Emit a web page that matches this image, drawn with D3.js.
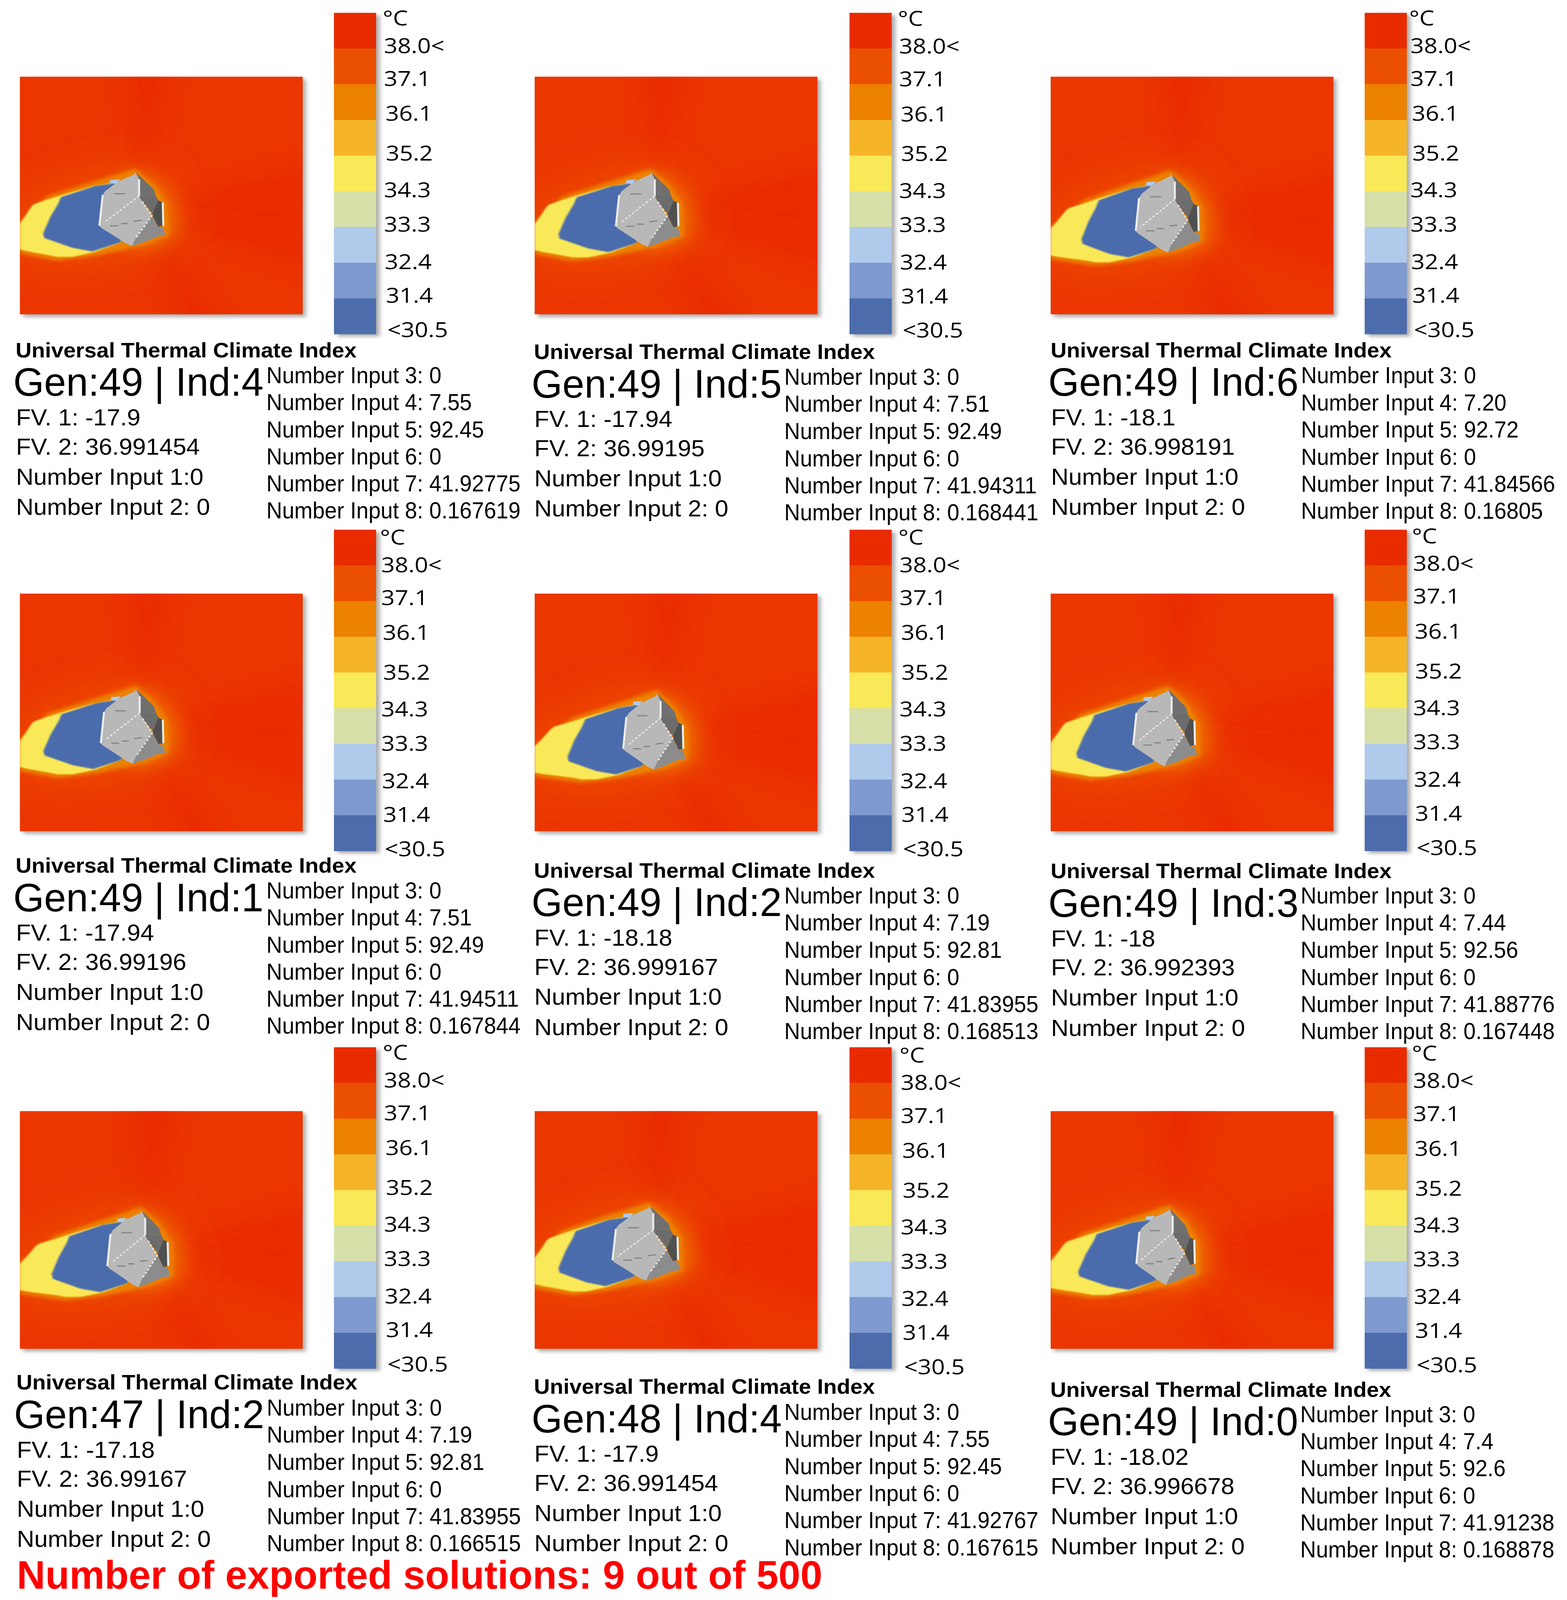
<!DOCTYPE html>
<html>
<head>
<meta charset="utf-8">
<script src="https://cdn.jsdelivr.net/npm/d3@7"></script>
<style>
  html, body { margin: 0; background: #fff; overflow: hidden; }
  svg { display: block; width: 100vw; height: 100vh; }
</style>
</head>
<body>
<!-- the browser window can come up shorter than asked for, so the drawing is fitted to it -->
<svg id="chart" viewBox="0 0 4012 4866" preserveAspectRatio="none"></svg>
<script>
// Solutions, in reading order
const gens = [49, 49, 49, 49, 49, 49, 47, 48, 49];
const inds = [4, 5, 6, 1, 2, 3, 2, 4, 0];
const fv1 = ['-17.9', '-17.94', '-18.1', '-17.94', '-18.18', '-18', '-17.18', '-17.9', '-18.02'];
const fv2 = ['36.991454', '36.99195', '36.998191', '36.99196', '36.999167', '36.992393', '36.99167', '36.991454', '36.996678'];
const input1 = ['0', '0', '0', '0', '0', '0', '0', '0', '0'];
const input2 = ['0', '0', '0', '0', '0', '0', '0', '0', '0'];
const input3 = ['0', '0', '0', '0', '0', '0', '0', '0', '0'];
const input4 = ['7.55', '7.51', '7.20', '7.51', '7.19', '7.44', '7.19', '7.55', '7.4'];
const input5 = ['92.45', '92.49', '92.72', '92.49', '92.81', '92.56', '92.81', '92.45', '92.6'];
const input6 = ['0', '0', '0', '0', '0', '0', '0', '0', '0'];
const input7 = ['41.92775', '41.94311', '41.84566', '41.94511', '41.83955', '41.88776', '41.83955', '41.92767', '41.91238'];
const input8 = ['0.167619', '0.168441', '0.16805', '0.167844', '0.168513', '0.167448', '0.166515', '0.167615', '0.168878'];

// Legend
const legendLabels = ['38.0<', '37.1', '36.1', '35.2', '34.3', '33.3', '32.4', '31.4', '<30.5'];
const legendTemps = [38.5, 37.5, 36.6, 35.6, 34.7, 33.8, 32.8, 31.9, 30];
const tempBreaks = [30.5, 31.4, 32.4, 33.3, 34.3, 35.2, 36.1, 37.1, 38.0];
const tempColors = ['#4c6cac', '#7e9ace', '#b0caec', '#d6e0a8', '#f9e858', '#f5b428', '#ec8200', '#eb5000', '#e92c00'];

// Temperature zones on the ground, in percent of the plan (u, v)
const wakeYellow = [[0, 61.4], [1.7, 58.6], [4, 54.4], [4.9, 53.3], [9.5, 51.4], [13.7, 49.8], [18.3, 48.2], [25.2, 45.9], [32.6, 44.3], [34.4, 53.1], [35.3, 69.2], [26.1, 73.3], [22.4, 74.3], [18.3, 75.4], [13.2, 75.4], [9.5, 74.5], [3.1, 73.1], [0, 72.2]];
const wakeBlue = [[14.4, 50.3], [26.1, 45.7], [33, 44.5], [34.4, 45.2], [39, 53], [35.3, 69.2], [25.2, 73.1], [18.3, 71.5], [8.6, 67.4], [8.2, 65.5], [10.7, 58.6], [13.4, 53.1]];
const wakeSky = [[31.6, 43.2], [35.1, 42.9], [33.5, 44.8], [31.4, 44.3]];
const hull = [[0, 61], [9.5, 50], [25, 44], [40.6, 38.5], [47.3, 45], [52, 53], [52.5, 66.5], [43.6, 70.5], [26, 75], [13, 77], [0, 74]];
const buildingGlow = [[38, 39], [47, 43], [54, 52], [55, 66], [46, 71], [37, 71]];

// Building facets, same units
const facetLight = [[40.6, 39.9], [42, 42.9], [42, 49.8], [43.1, 52.1], [46.6, 58.1], [45, 60.4], [43.1, 63.2], [40.8, 67.4], [39.5, 70.8], [37.2, 69.7], [33.5, 66.9], [28.4, 63.2], [27.7, 62.3], [28.9, 49.4], [29.8, 47.8], [34.4, 43.8], [40.4, 40.8]];
const facetA = [[40.8, 39.9], [47.3, 47.1], [48, 49.8], [42, 49.8], [42, 42.9]];
const facetB = [[42, 49.8], [48, 49.8], [48.9, 51.7], [46.8, 57.2], [43.1, 52.1]];
const facetC = [[48.9, 51.7], [50.5, 52.6], [50.7, 62.3], [48.9, 62.7], [46.8, 58.1], [46.8, 57.2]];
const facetD = [[46.6, 58.1], [48.9, 62.7], [50.7, 63.2], [51.4, 66.4], [48.9, 66.7], [43.6, 69.2], [39.5, 70.8], [40.8, 67.4], [43.1, 63.2], [45, 60.4]];
const edgesWhite = [[[28.9, 49.4], [27.7, 62.3]], [[42, 42.9], [42, 49.8]], [[50.5, 52.6], [50.7, 62.3]]];
const edgesDashed = [[[43.1, 52.1], [46.6, 58.1], [40.8, 67.4]], [[42, 49.8], [29.4, 60.9]]];
const edgesDark = [[[33, 48.9], [37, 48.9]], [[31.5, 62.3], [34.5, 62.3]], [[35.5, 61.4], [38, 61.4]], [[40, 60.4], [43, 60]]];

// Where each solution's wake and building sit on the plan, percent
const wakeLeft = [8.2, 8.4, 10.9, 8.3, 11.6, 9.1, 11.2, 8.4, 9.7];
const buildLeft = [28.1, 28.7, 30.1, 28.6, 31.3, 29.2, 30.9, 27.5, 30.3];
const buildRight = [51.4, 51.5, 53, 51.4, 53.2, 51.7, 53.1, 51.4, 51.6];
const buildTop = [40.2, 40.2, 40.9, 40.2, 42.1, 40.2, 41.8, 39.9, 40.9];
const buildBottom = [71.3, 71.6, 74, 71.6, 74.1, 72.7, 74.1, 71.4, 73.1];

// Darker streaks fanning out from the building, degrees from north
const streakAngles = [3, 78, 92, 106, 155];

// Panel placement
const panelX = [0, 1312, 2624, 0, 1312, 2624, 0, 1312, 2624];
const panelY = [0, 0, 0, 1565, 1565, 1565, 3132, 3132, 3132];
const plotDx = [0, 6, 15, 0, 6, 15, 0, 6, 15];
const plotDy = [0, 0, 0, 7, 7, 7, 14, 14, 14];
const barDx = [0, 8, 15, 0, 8, 15, 0, 8, 15];
const labelDx = [0, 7, 4, -7, 8, 11, 0, 11, 11];
const labelDy = [0, 2, 0, 14, 14, 10, 14, 22, 16];
const textDx = [0, 15, 26, 0, 15, 26, 2, 15, 25];
const textDy = [0, 5, 0, 2, 17, 19, 7, 20, 29];
const rightDx = [0, 14, 25, 0, 14, 24, 1, 14, 23];
const rightDy = [0, 5, 1, 2, 18, 18, 8, 21, 28];

const plotW = 724, plotH = 723;
const svg = d3.select('#chart');
const defs = svg.append('defs');

function addBlur(id, sd) {
  defs.append('filter').attr('id', id)
    .attr('x', '-80%').attr('y', '-80%').attr('width', '260%').attr('height', '260%')
    .append('feGaussianBlur').attr('stdDeviation', sd);
}
addBlur('b2', 2);
addBlur('b6', 6);
addBlur('b28', 28);
addBlur('b70', 70);

defs.append('clipPath').attr('id', 'plotClip')
  .append('rect').attr('width', plotW).attr('height', plotH);

const tempColor = d3.scaleThreshold().domain(tempBreaks).range(['#4c6cac'].concat(tempColors));
const x = d3.scaleLinear().domain([0, 100]).range([0, plotW]);
const y = d3.scaleLinear().domain([0, 100]).range([0, plotH]);
const legendY = d3.scaleBand().domain(legendLabels).range([0, 977]);

function label(g, txt, px, py, size, sx, opts) {
  const o = opts || {};
  return g.append('text')
    .attr('transform', `translate(${px},${py}) scale(${sx},1)`)
    .attr('font-family', o.family || '"Liberation Sans", Arial, sans-serif')
    .attr('font-weight', o.weight || 400)
    .attr('font-size', size)
    .attr('fill', o.fill || '#000')
    .text(txt);
}

function drawPlot(g, i) {
  // each solution bends the same plan outline to its own wake and building extents
  const warpX = d3.scaleLinear().domain([0, 8.2, 27.7, 51.4, 100]).range([0, wakeLeft[i], buildLeft[i], buildRight[i], 100]);
  const warpY = d3.scaleLinear().domain([0, 39.9, 70.8, 100]).range([0, buildTop[i], buildBottom[i], 100]);
  const shape = d3.line().x(d => x(warpX(d[0]))).y(d => y(warpY(d[1])));
  const closed = pts => shape(pts) + 'Z';

  g.append('rect').attr('x', 8).attr('y', 8).attr('width', plotW).attr('height', plotH)
    .attr('fill', '#aaa').attr('filter', 'url(#b6)');
  const p = g.append('g').attr('clip-path', 'url(#plotClip)');
  p.append('rect').attr('width', plotW).attr('height', plotH).attr('fill', '#eb3600');

  const arc = d3.arc().innerRadius(0).outerRadius(1100);
  p.append('g').attr('transform', `translate(${x(warpX(42))},${y(warpY(56))})`)
    .selectAll('path').data(streakAngles).join('path')
    .attr('d', a => arc({ startAngle: (a - 7) * Math.PI / 180, endAngle: (a + 7) * Math.PI / 180 }))
    .attr('fill', '#e92800').attr('opacity', 0.6).attr('filter', 'url(#b28)');

  p.append('path').attr('d', closed(hull)).attr('fill', '#ee5200').attr('filter', 'url(#b70)');
  p.append('path').attr('d', closed(buildingGlow)).attr('fill', '#ee7a00').attr('filter', 'url(#b28)');
  p.append('path').attr('d', closed(hull)).attr('fill', tempColor(36.5)).attr('filter', 'url(#b6)');
  p.append('path').attr('d', closed(wakeYellow)).attr('fill', tempColor(34.5)).attr('filter', 'url(#b2)');
  p.append('path').attr('d', closed(wakeBlue)).attr('fill', tempColor(30)).attr('filter', 'url(#b2)');
  p.append('path').attr('d', closed(wakeSky)).attr('fill', tempColor(33));

  const facets = [[facetLight, '#b8b8b8'], [facetA, '#707070'], [facetB, '#6c6c6c'], [facetC, '#505050'], [facetD, '#8c8c8c']];
  p.selectAll('.facet').data(facets).join('path').attr('class', 'facet')
    .attr('d', d => closed(d[0])).attr('fill', d => d[1]);
  p.selectAll('.edgeW').data(edgesWhite).join('path').attr('class', 'edgeW')
    .attr('d', shape).attr('fill', 'none').attr('stroke', '#eee').attr('stroke-width', 5);
  p.selectAll('.edgeD').data(edgesDashed).join('path').attr('class', 'edgeD')
    .attr('d', shape).attr('fill', 'none').attr('stroke', '#e4e4e4').attr('stroke-width', 4).attr('stroke-dasharray', '7 5');
  p.selectAll('.edgeK').data(edgesDark).join('path').attr('class', 'edgeK')
    .attr('d', shape).attr('fill', 'none').attr('stroke', '#888').attr('stroke-width', 4);
}

function drawLegend(g) {
  g.append('rect').attr('x', 9).attr('y', 7).attr('width', 108).attr('height', 977)
    .attr('fill', '#aaa').attr('filter', 'url(#b6)');
  g.selectAll('.band').data(legendLabels).join('rect').attr('class', 'band')
    .attr('y', d => legendY(d)).attr('width', 108).attr('height', legendY.bandwidth() + 0.5)
    .attr('fill', (d, i) => tempColor(legendTemps[i]));
}

const labelX = [983, 983, 987, 988, 983, 983, 985, 988, 992];
const labelY = [161, 261, 367, 488, 600, 704, 818, 921, 1025];
const rightY = [1165, 1247, 1330, 1413, 1495, 1577];
const leftY = [1294, 1383, 1474, 1566];

gens.forEach((gen, i) => {
  const g = svg.append('g').attr('transform', `translate(${panelX[i]},${panelY[i]})`);

  drawPlot(g.append('g').attr('transform', `translate(${51 + plotDx[i]},${233 + plotDy[i]})`), i);
  drawLegend(g.append('g').attr('transform', `translate(${855 + barDx[i]},${39 + plotDy[i]})`));

  const legendFont = { family: '"Open Sans", sans-serif' };
  label(g, '°C', 980 + labelDx[i], 77 + labelDy[i], 62, 0.98, legendFont);
  legendLabels.forEach((t, k) => {
    label(g, t, labelX[k] + labelDx[i], labelY[k] + labelDy[i], 62, 0.98, legendFont);
  });

  const tx = textDx[i], ty = textDy[i];
  label(g, 'Universal Thermal Climate Index', 40 + tx, 1087 + ty, 64, 0.883, { weight: 700 });
  label(g, `Gen:${gen} | Ind:${inds[i]}`, 34 + tx, 1204 + ty, 121, 0.838);
  label(g, `FV. 1: ${fv1[i]}`, 41 + tx, leftY[0] + ty, 70, 0.887);
  label(g, `FV. 2: ${fv2[i]}`, 41 + tx, leftY[1] + ty, 70, 0.887);
  label(g, `Number Input 1:${input1[i]}`, 41 + tx, leftY[2] + ty, 70, 0.887);
  label(g, `Number Input 2: ${input2[i]}`, 41 + tx, leftY[3] + ty, 70, 0.887);

  const rightLines = [input3, input4, input5, input6, input7, input8];
  rightLines.forEach((vals, k) => {
    label(g, `Number Input ${k + 3}: ${vals[i]}`, 682 + rightDx[i], rightY[k] + rightDy[i], 70, 0.8);
  });
});

label(svg, 'Number of exported solutions: 9 out of 500', 43, 4832, 121, 0.836, { weight: 700, fill: '#ff0000' });
</script>
</body>
</html>
